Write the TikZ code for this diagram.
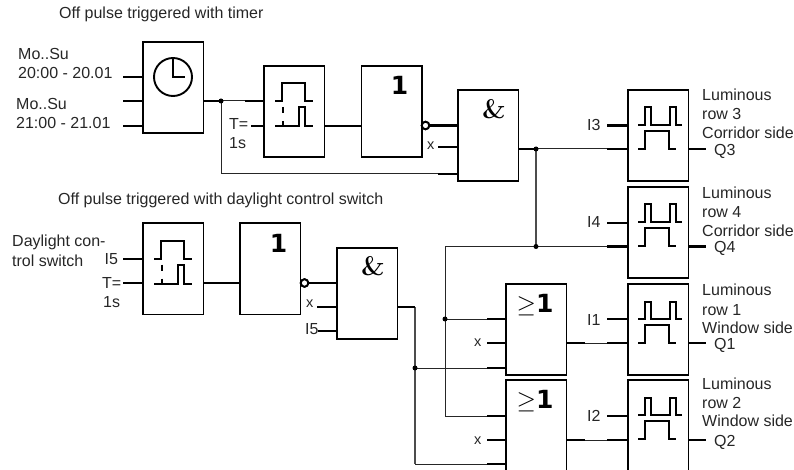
\documentclass[tikz,border=0pt]{standalone}
\usepackage{fontspec}
\newfontfamily\lab{Liberation Sans}
\newfontfamily\djv{DejaVu Sans}
\tikzset{
  blockbox/.style={draw=black,line width=1.9pt,anchor=north west,inner sep=0pt,minimum width=60.5pt,minimum height=91pt},
  lbl/.style={anchor=base west,inner sep=0pt,font=\lab\fontsize{16}{18}\selectfont,text=black!85},
  smalllbl/.style={anchor=base west,inner sep=0pt,font=\lab\fontsize{14.5}{16}\selectfont,text=black!85},
  onesym/.style={inner sep=0pt,font=\djv\bfseries\fontsize{25}{25}\selectfont},
  andsym/.style={inner sep=0pt,font=\bfseries\fontsize{27}{27}\selectfont},
  pin/.style={line width=2.2pt},
  wire/.style={line width=1pt,black!85},
  midwire/.style={line width=1.5pt,black!70},
  glyph/.style={line width=2pt,line join=miter},
  dotj/.style={circle,fill=black,inner sep=0pt,minimum size=5pt},
  notc/.style={circle,draw=black,fill=white,line width=1.9pt,inner sep=0pt,minimum size=7.5pt}
}
\newcommand{\delaysym}[1]{\begin{scope}[shift={(#1.north west)}]
  \draw[glyph] (12,36)--(19,36)--(19,18)--(42,18)--(42,36)--(50,36);
  \draw[glyph] (12,61)--(36,61)--(36,42)--(42,42)--(42,61)--(50,61);
  \draw[glyph] (19.5,42)--(19.5,48) (19.5,56)--(19.5,61);
\end{scope}}
\newcommand{\relaysym}[1]{\begin{scope}[shift={(#1.north west)}]
  \draw[glyph] (11,36)--(17.5,36)--(17.5,18.5)--(23.5,18.5)--(23.5,36)--(43,36)--(43,18.5)--(49,18.5)--(49,36)--(55,36);
  \draw[glyph] (11,60)--(17.5,60)--(17.5,42)--(41.5,42)--(41.5,60)--(49,60);
\end{scope}}
\begin{document}
\begin{tikzpicture}[x=1pt,y=-1pt]
\useasboundingbox (0,0) rectangle (794,470);
% blocks
\node[blockbox] (tim) at (142,41) {};
\node[blockbox] (dly1) at (263,65) {};
\node[blockbox] (inv1) at (360.5,65) {};
\node[blockbox] (and1) at (457,89) {};
\node[blockbox] (q3b) at (627,89) {};
\node[blockbox] (q4b) at (627,186) {};
\node[blockbox] (q1b) at (627,283) {};
\node[blockbox] (q2b) at (627,379) {};
\node[blockbox] (or1) at (505,283) {};
\node[blockbox] (or2) at (505,379) {};
\node[blockbox] (dly2) at (142,222.5) {};
\node[blockbox] (inv2) at (239,222.5) {};
\node[blockbox] (and2) at (336,247) {};
% block symbols
\node[circle,draw=black,line width=1.9pt,minimum size=38pt,inner sep=0pt] (clock) at (173,77) {};
\draw[glyph] (clock.north) -- (clock.center) -- (185,77);
\delaysym{dly1}
\delaysym{dly2}
\relaysym{q3b}
\relaysym{q4b}
\relaysym{q1b}
\relaysym{q2b}
\node[onesym] (s1) at (399.5,85.5) {1};
\node[onesym] (s2) at (278.5,243) {1};
\node[andsym] (s3) at (494,109) {\&};
\node[andsym] (s4) at (373,266.5) {\&};
\node[inner sep=0pt,anchor=base west] (s5) at (516.5,312) {\fontsize{27}{27}\selectfont$\geq$};
\node[onesym,anchor=base west] (s6) at (536,312) {1};
\node[inner sep=0pt,anchor=base west] (s7) at (516.5,408) {\fontsize{27}{27}\selectfont$\geq$};
\node[onesym,anchor=base west] (s8) at (536,408) {1};
% negation circles
\node[notc] (n1) at (425.5,125.5) {};
\node[notc] (n2) at (304.5,283) {};
% junctions
\coordinate (j1) at (221,101);
\coordinate (j2) at (536,149);
\coordinate (j3) at (536,246.5);
\coordinate (j4) at (445,319);
\coordinate (j5) at (415,368);
\coordinate (c1) at (221,174);
\coordinate (c2) at (445,416);
\coordinate (c3) at (415,307);
\coordinate (c4) at (415,464);
% thin wires
\draw[wire] (j1) -- (dly1.west |- j1);
\draw[wire] (j1) -- (c1) -- (and1.west |- c1);
\draw[wire] (j2) -- (q3b.west |- j2);
\draw[midwire] (j2) -- (j3);
\draw[wire] (q4b.west |- j3) -- (j3) -- (445,246.5) -- (c2) -- (or2.west |- c2);
\draw[wire] (j4) -- (or1.west |- j4);
\draw[wire] (j5) -- (or1.west |- j5);
\draw[midwire] (c3) -- (c4);
\draw[wire] (c4) -- (or2.west |- c4);
\draw[wire] (or1.east |- 0,343) -- (q1b.west |- 0,343);
\draw[wire] (or2.east |- 0,440) -- (q2b.west |- 0,440);
% thick stubs
\foreach \y in {77,101,126} \draw[pin] (123,\y) -- (tim.west |- 0,\y);
\draw[pin] (tim.east |- j1) -- (j1);
\draw[pin] (245,101) -- (dly1.west |- j1);
\draw[pin] (251,126) -- (dly1.west |- 0,126);
\draw[pin] (dly1.east |- 0,126) -- (inv1.west |- 0,126);
\draw[pin] (n1) -- (and1.west |- n1);
\draw[pin] (438,147) -- (and1.west |- 0,147);
\draw[pin] (438,174) -- (and1.west |- 0,174);
\draw[pin] (and1.east |- j2) -- (j2);
\draw[pin] (607,125.5) -- (q3b.west |- 0,125.5);
\draw[pin] (607,149) -- (q3b.west |- 0,149);
\draw[pin] (607,223) -- (q4b.west |- 0,223);
\draw[pin] (607,246.5) -- (q4b.west |- 0,246.5);
\draw[pin] (607,319) -- (q1b.west |- 0,319);
\draw[pin] (607,343) -- (q1b.west |- 0,343);
\draw[pin] (607,416) -- (q2b.west |- 0,416);
\draw[pin] (607,440) -- (q2b.west |- 0,440);
\draw[pin] (q3b.east |- 0,149) -- (706,149);
\draw[pin] (q4b.east |- 0,246.5) -- (706,246.5);
\draw[pin] (q1b.east |- 0,343) -- (706,343);
\draw[pin] (q2b.east |- 0,440) -- (706,440);
\draw[pin] (487,319) -- (or1.west |- 0,319);
\draw[pin] (487,343) -- (or1.west |- 0,343);
\draw[pin] (487,368) -- (or1.west |- 0,368);
\draw[pin] (487,416) -- (or2.west |- 0,416);
\draw[pin] (487,440) -- (or2.west |- 0,440);
\draw[pin] (487,464) -- (or2.west |- 0,464);
\draw[pin] (or1.east |- 0,343) -- (585,343);
\draw[pin] (or2.east |- 0,440) -- (585,440);
\draw[pin] (123,259) -- (dly2.west |- 0,259);
\draw[pin] (123,283) -- (dly2.west |- 0,283);
\draw[pin] (dly2.east |- 0,283) -- (inv2.west |- 0,283);
\draw[pin] (n2) -- (and2.west |- n2);
\draw[pin] (317,307) -- (and2.west |- 0,307);
\draw[pin] (318,331) -- (and2.west |- 0,331);
\draw[pin] (and2.east |- c3) -- (c3);
% redraw negation circles above stubs
\node[notc] at (n1) {};
\node[notc] at (n2) {};
% dots
\foreach \j in {j1,j2,j3,j4,j5} \node[dotj] at (\j) {};
% labels
\node[lbl] (l1) at (59,19) {Off pulse triggered with timer};
\node[lbl] (l2) at (18,60) {Mo..Su};
\node[lbl] (l3) at (18,79) {20:00 - 20.01};
\node[lbl] (l4) at (16,110) {Mo..Su};
\node[lbl] (l5) at (16,129) {21:00 - 21.01};
\node[lbl] (l6) at (229,130) {T=};
\node[lbl] (l7) at (229,149) {1s};
\node[lbl] (l8) at (58,205) {Off pulse triggered with daylight control switch};
\node[lbl] (l9) at (12,247) {Daylight con-};
\node[lbl] (l10) at (12,266) {trol switch};
\node[lbl] (l11) at (104.5,264) {I5};
\node[lbl] (l12) at (102,288) {T=};
\node[lbl] (l13) at (103,307) {1s};
\node[smalllbl] (x1) at (427,150) {x};
\node[smalllbl] (x2) at (306,307.5) {x};
\node[lbl] (l14) at (305,334) {I5};
\node[smalllbl] (x3) at (474,346) {x};
\node[smalllbl] (x4) at (474,444) {x};
\node[lbl] (i3) at (587,131) {I3};
\node[lbl] (i4) at (587,228) {I4};
\node[lbl] (i1) at (587,325) {I1};
\node[lbl] (i2) at (587,421.5) {I2};
\node[lbl] (r1) at (702,100.5) {Luminous};
\node[lbl] (r2) at (702,120) {row 3};
\node[lbl] (r3) at (702,139) {Corridor side};
\node[lbl] (r4) at (714,155.5) {Q3};
\node[lbl] (r5) at (702,199) {Luminous};
\node[lbl] (r6) at (702,217.5) {row 4};
\node[lbl] (r7) at (702,236.5) {Corridor side};
\node[lbl] (r8) at (714,252.5) {Q4};
\node[lbl] (r9) at (702,295.5) {Luminous};
\node[lbl] (r10) at (702,315) {row 1};
\node[lbl] (r11) at (702,333) {Window side};
\node[lbl] (r12) at (714,349) {Q1};
\node[lbl] (r13) at (702,389) {Luminous};
\node[lbl] (r14) at (702,408) {row 2};
\node[lbl] (r15) at (702,426.5) {Window side};
\node[lbl] (r16) at (714,446) {Q2};
\end{tikzpicture}
\end{document}
